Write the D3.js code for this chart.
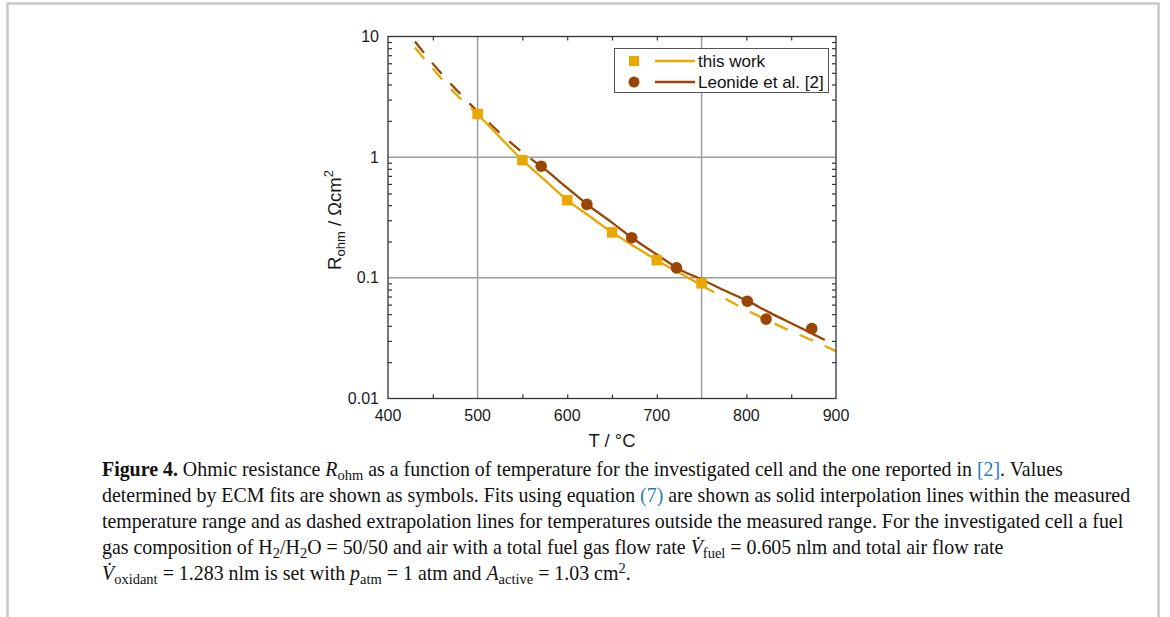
<!DOCTYPE html>
<html>
<head>
<meta charset="utf-8">
<script src="https://cdn.jsdelivr.net/npm/d3@7"></script>
<style>
  html, body { margin: 0; padding: 0; background: #fff; }
  svg { display: block; }
  .sans { font-family: "Liberation Sans", Arial, Helvetica, sans-serif; }
  .serif { font-family: "Liberation Serif", "Times New Roman", serif; }
</style>
</head>
<body>
<svg id="fig" width="1170" height="617"></svg>
<script>
// Measured ohmic resistance (Ωcm²) versus temperature (°C)
const tempThisWork = [500, 550, 600, 650, 700, 750];
const rThisWork    = [2.28, 0.945, 0.44, 0.238, 0.14, 0.09];

const tempLeonide = [571, 622, 672, 722, 801, 822, 873];
const rLeonide    = [0.842, 0.406, 0.215, 0.121, 0.064, 0.0455, 0.038];

// Fitted curves (equation 7), tabulated on a common temperature grid
const fitTemps      = [430, 450, 475, 500, 525, 550, 575, 600, 625, 650, 675, 700, 725, 750, 775, 800, 825, 850, 875, 900];
const fitThisWork   = [8.1, 5.40, 3.37, 2.27, 1.46, 0.944, 0.645, 0.441, 0.324, 0.238, 0.182, 0.140, 0.110, 0.087, 0.068, 0.054, 0.044, 0.036, 0.030, 0.0247];
const fitLeonide    = [9.1, 5.96, 3.70, 2.39, 1.58, 1.095, 0.795, 0.556, 0.392, 0.287, 0.208, 0.156, 0.118, 0.097, 0.079, 0.065, 0.052, 0.042, 0.034, 0.0275];

// Measured temperature ranges: solid inside, dashed outside
const rangeThisWork = [500, 750];
const rangeLeonide  = [571, 873];

const seriesNames = ["this work", "Leonide et al. [2]"];

const xTicks      = [400, 500, 600, 700, 800, 900];
const xMinorTicks = [450, 550, 600, 650, 700, 800, 850];
const xGrid       = [500, 750];
const yTicks      = [0.01, 0.1, 1, 10];
const yTickLabels = ["0.01", "0.1", "1", "10"];
const yGrid       = [0.1, 1];

const COL_THIS = "#E9A800";
const COL_LEON = "#9A4503";

const svg = d3.select("#fig");

// Page frame
svg.append("path")
  .attr("d", "M7.5,640 L7.5,3.5 L1158.5,3.5 L1158.5,640")
  .attr("fill", "none").attr("stroke", "#c8c8c8").attr("stroke-width", 2.5);

const L = 388, R = 836, T = 36.5, B = 398.5;
const x = d3.scaleLinear().domain([400, 900]).range([L, R]);
const y = d3.scaleLog().domain([0.01, 10]).range([B, T]);

const plot = svg.append("g");

// clip to plotting area
const defs = svg.append("defs");
defs.append("clipPath").attr("id", "plotClip")
  .append("rect").attr("x", L).attr("y", T).attr("width", R - L).attr("height", B - T);

// grid lines
plot.selectAll(".gx").data(xGrid).join("line")
  .attr("x1", d => x(d)).attr("x2", d => x(d)).attr("y1", T).attr("y2", B)
  .attr("stroke", "#9c9c9c").attr("stroke-width", 1.5);
plot.selectAll(".gy").data(yGrid).join("line")
  .attr("x1", L).attr("x2", R).attr("y1", d => y(d)).attr("y2", d => y(d))
  .attr("stroke", "#9c9c9c").attr("stroke-width", 1.5);

// inward ticks via d3 axes
const tickLen = 4;
const fmtNone = () => "";
const axBottom = d3.axisBottom(x).tickValues(xMinorTicks).tickSize(-tickLen).tickFormat(fmtNone);
const axTop = d3.axisTop(x).tickValues(xMinorTicks).tickSize(-tickLen).tickFormat(fmtNone);
const minorY = [];
[0.01, 0.1, 1].forEach(dec => { for (let k = 2; k <= 9; k++) minorY.push(dec * k); });
const axLeft = d3.axisLeft(y).tickValues(minorY).tickSize(-tickLen).tickFormat(fmtNone);
const axRight = d3.axisRight(y).tickValues(minorY).tickSize(-tickLen).tickFormat(fmtNone);

function styleAxis(g) {
  g.select(".domain").remove();
  g.selectAll(".tick line").attr("stroke", "#333").attr("stroke-width", 1.2);
}
plot.append("g").attr("transform", `translate(0,${B})`).call(axBottom).call(styleAxis);
plot.append("g").attr("transform", `translate(0,${T})`).call(axTop).call(styleAxis);
plot.append("g").attr("transform", `translate(${L},0)`).call(axLeft).call(styleAxis);
plot.append("g").attr("transform", `translate(${R},0)`).call(axRight).call(styleAxis);

// tick labels
const lbl = svg.append("g").attr("class", "sans").attr("font-size", 16).attr("fill", "#1a1a1a");
lbl.selectAll(".xl").data(xTicks).join("text")
  .attr("x", d => x(d)).attr("y", B + 22).attr("text-anchor", "middle").text(d => d);
lbl.selectAll(".yl").data(yTicks).join("text")
  .attr("x", L - 9).attr("y", d => y(d) + 5.5).attr("text-anchor", "end")
  .text((d, i) => yTickLabels[i]);

// axis titles
svg.append("text").attr("class", "sans").attr("font-size", 18.5).attr("fill", "#1a1a1a")
  .attr("x", (L + R) / 2).attr("y", 447).attr("text-anchor", "middle").text("T / °C");
const yt = svg.append("text").attr("class", "sans").attr("font-size", 18.5).attr("fill", "#1a1a1a")
  .attr("text-anchor", "middle").attr("transform", "translate(341,220) rotate(-90)");
yt.append("tspan").text("R");
yt.append("tspan").attr("font-size", 13).attr("dy", 4).text("ohm");
yt.append("tspan").attr("dy", -4).text(" / Ωcm");
yt.append("tspan").attr("font-size", 13).attr("dy", -8).text("2");

// fitted curves: dashed outside the measured range, solid inside
const curves = svg.append("g").attr("clip-path", "url(#plotClip)");
const DASH = [14.5, 13];
function drawFit(vals, range, color, id) {
  const pts = fitTemps.map((t, i) => [x(t), y(vals[i])]);
  const gen = d3.line().curve(d3.curveMonotoneX);
  const d = gen(pts);
  // find path length at the upper end of the measured range
  const probe = curves.append("path").attr("d", d).attr("fill", "none").attr("stroke", "none");
  const node = probe.node();
  const total = node.getTotalLength();
  function lenAtX(px) {
    let lo = 0, hi = total;
    for (let k = 0; k < 40; k++) {
      const mid = (lo + hi) / 2;
      if (node.getPointAtLength(mid).x < px) lo = mid; else hi = mid;
    }
    return (lo + hi) / 2;
  }
  const x0 = x(range[0]), x1 = x(range[1]);
  const lEnd = lenAtX(x1);
  probe.remove();
  const cl = defs.append("clipPath").attr("id", id + "L");
  cl.append("rect").attr("x", 0).attr("y", 0).attr("width", x0).attr("height", 617);
  const cm = defs.append("clipPath").attr("id", id + "M");
  cm.append("rect").attr("x", x0).attr("y", 0).attr("width", x1 - x0).attr("height", 617);
  const cr = defs.append("clipPath").attr("id", id + "R");
  cr.append("rect").attr("x", x1).attr("y", 0).attr("width", 1170 - x1).attr("height", 617);
  const period = DASH[0] + DASH[1];
  const common = s => s.attr("d", d).attr("fill", "none").attr("stroke", color).attr("stroke-width", 2.3);
  curves.append("g").attr("clip-path", `url(#${id}L)`).append("path").call(common)
    .attr("stroke-dasharray", DASH.join(","));
  curves.append("g").attr("clip-path", `url(#${id}M)`).append("path").call(common);
  curves.append("g").attr("clip-path", `url(#${id}R)`).append("path").call(common)
    .attr("stroke-dasharray", DASH.join(","))
    .attr("stroke-dashoffset", -(lEnd % period));
}
drawFit(fitLeonide, rangeLeonide, COL_LEON, "leon");
drawFit(fitThisWork, rangeThisWork, COL_THIS, "this");

// frame
svg.append("rect").attr("x", L).attr("y", T).attr("width", R - L).attr("height", B - T)
  .attr("fill", "none").attr("stroke", "#333").attr("stroke-width", 1.3);

// data markers
const sq = 10.5;
svg.append("g").selectAll("rect").data(tempThisWork).join("rect")
  .attr("x", (d) => x(d) - sq / 2).attr("y", (d, i) => y(rThisWork[i]) - sq / 2)
  .attr("width", sq).attr("height", sq).attr("fill", COL_THIS);
svg.append("g").selectAll("circle").data(tempLeonide).join("circle")
  .attr("cx", d => x(d)).attr("cy", (d, i) => y(rLeonide[i])).attr("r", 5.8)
  .attr("fill", COL_LEON);

// legend
const lg = svg.append("g");
lg.append("rect").attr("x", 614.5).attr("y", 48.5).attr("width", 214).attr("height", 44)
  .attr("fill", "#fff").attr("stroke", "#555").attr("stroke-width", 1);
const rows = [
  { name: seriesNames[0], color: COL_THIS, shape: "square", yy: 61 },
  { name: seriesNames[1], color: COL_LEON, shape: "circle", yy: 82 }
];
rows.forEach(r => {
  if (r.shape === "square") {
    lg.append("rect").attr("x", 634 - 5).attr("y", r.yy - 5).attr("width", 10).attr("height", 10).attr("fill", r.color);
  } else {
    lg.append("circle").attr("cx", 634).attr("cy", r.yy).attr("r", 5.5).attr("fill", r.color);
  }
  lg.append("line").attr("x1", 655).attr("x2", 695).attr("y1", r.yy).attr("y2", r.yy)
    .attr("stroke", r.color).attr("stroke-width", 2.3);
  lg.append("text").attr("class", "sans").attr("font-size", 17).attr("fill", "#111")
    .attr("x", 698).attr("y", r.yy + 6).text(r.name);
});

// caption
const CAP_FS = 19.9, SUB_FS = 14.5;
const cap = svg.append("g").attr("class", "serif").attr("font-size", CAP_FS).attr("fill", "#111");
const LINK = "#2b7bb9";
function capLine(i, parts) {
  const t = cap.append("text").attr("x", 102).attr("y", 476 + 26 * i);
  parts.forEach(p => {
    const s = t.append("tspan").text(p.t);
    if (p.b) s.attr("font-weight", "bold");
    if (p.i) s.attr("font-style", "italic");
    if (p.c) s.attr("fill", p.c);
    if (p.fs) s.attr("font-size", p.fs);
    if (p.dy) s.attr("dy", p.dy);
  });
}
capLine(0, [
  { t: "Figure 4.", b: true },
  { t: " Ohmic resistance " }, { t: "R", i: true },
  { t: "ohm", fs: SUB_FS, dy: 4 },
  { t: " as a function of temperature for the investigated cell and the one reported in ", dy: -4 },
  { t: "[2]", c: LINK }, { t: ". Values" }
]);
capLine(1, [
  { t: "determined by ECM fits are shown as symbols. Fits using equation " },
  { t: "(7)", c: LINK },
  { t: " are shown as solid interpolation lines within the measured" }
]);
capLine(2, [
  { t: "temperature range and as dashed extrapolation lines for temperatures outside the measured range. For the investigated cell a fuel" }
]);
capLine(3, [
  { t: "gas composition of H" }, { t: "2", fs: SUB_FS, dy: 4 }, { t: "/H", dy: -4 },
  { t: "2", fs: SUB_FS, dy: 4 }, { t: "O = 50/50 and air with a total fuel gas flow rate ", dy: -4 },
  { t: "V\u0307", i: true }, { t: "fuel", fs: SUB_FS, dy: 4 },
  { t: " = 0.605 nlm and total air flow rate", dy: -4 }
]);
capLine(4, [
  { t: "V\u0307", i: true }, { t: "oxidant", fs: SUB_FS, dy: 4 },
  { t: " = 1.283 nlm is set with ", dy: -4 }, { t: "p", i: true },
  { t: "atm", fs: SUB_FS, dy: 4 }, { t: " = 1 atm and ", dy: -4 }, { t: "A", i: true },
  { t: "active", fs: SUB_FS, dy: 4 }, { t: " = 1.03 cm", dy: -4 },
  { t: "2", fs: SUB_FS, dy: -7 }, { t: ".", dy: 7 }
]);
</script>
</body>
</html>
